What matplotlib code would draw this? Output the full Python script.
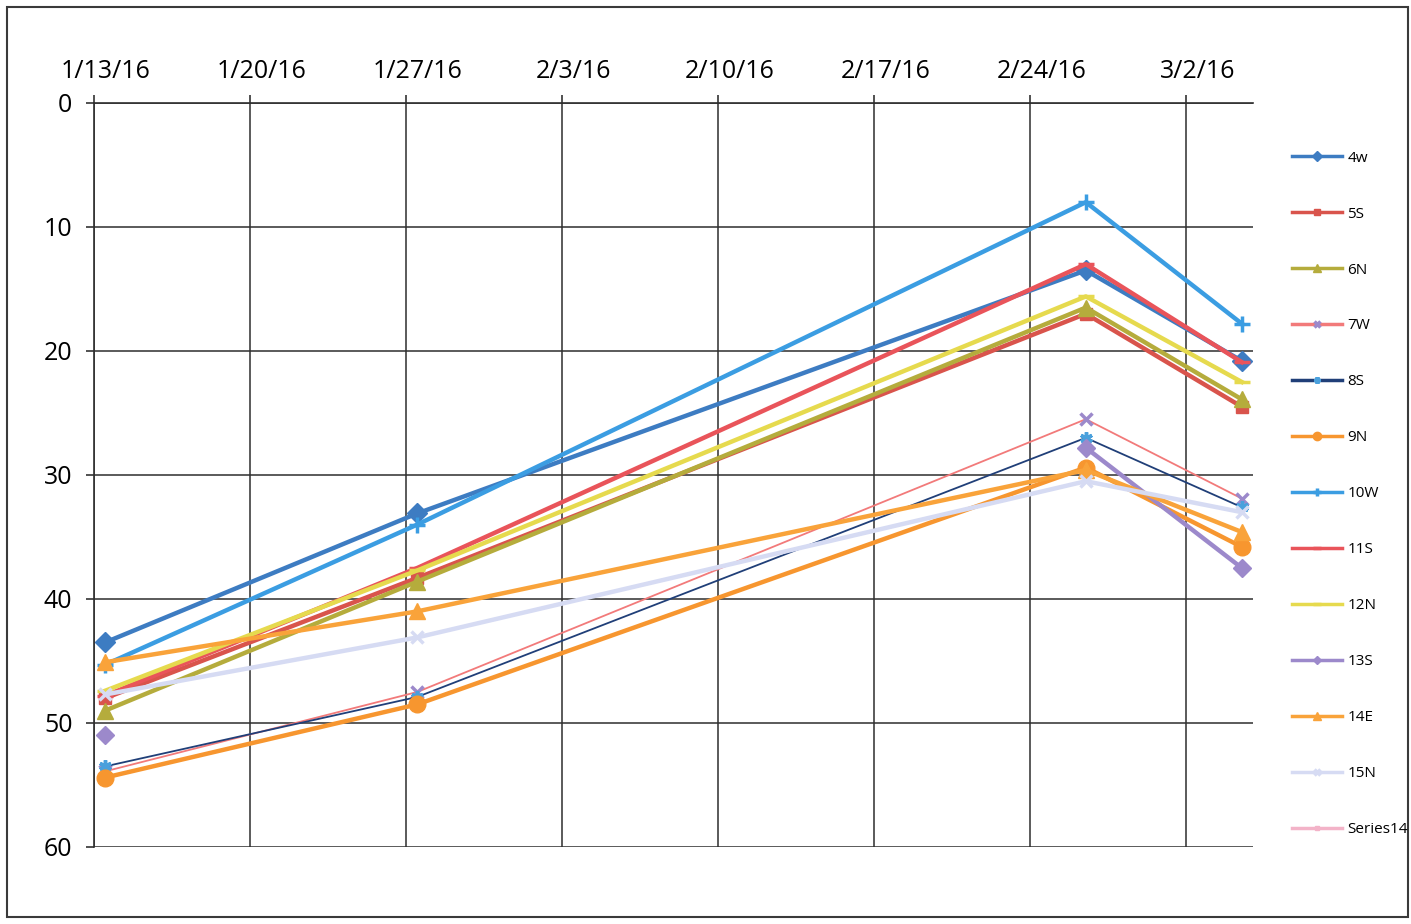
import numpy as np
import pandas as pd
import matplotlib
matplotlib.use("Agg")
import matplotlib.pyplot as plt
from matplotlib.patches import Rectangle

plt.rcParams['font.family'] = ['Open Sans', 'DejaVu Sans']

# Data
dates = pd.to_datetime(['2016-01-13', '2016-01-27', '2016-02-26', '2016-03-04'])
names = ['4w', '5S', '6N', '7W', '8S', '9N', '10W', '11S', '12N', '13S', '14E', '15N', 'Series14']
v_4w = [43.5, 33.1, 13.5, 20.8]
v_5s = [48.0, 38.3, 17.0, 24.5]
v_6n = [49.0, 38.6, 16.5, 23.9]
v_7w = [53.9, 47.5, 25.5, 31.9]
v_8s = [53.5, 47.9, 27.0, 32.6]
v_9n = [54.4, 48.5, 29.4, 35.8]
v_10w = [45.3, 34.0, 8.0, 17.8]
v_11s = [47.8, 37.5, 13.0, 20.9]
v_12n = [47.4, 37.7, 15.6, 22.5]
v_13s = [51.0, np.nan, 27.8, 37.5]
v_14e = [45.1, 41.0, 29.6, 34.6]
v_15n = [47.7, 43.1, 30.5, 33.0]
v_s14 = [np.nan, np.nan, np.nan, np.nan]
values = [v_4w, v_5s, v_6n, v_7w, v_8s, v_9n, v_10w, v_11s, v_12n, v_13s, v_14e, v_15n, v_s14]

colors = ['#3d7cc2', '#d9544c', '#b5ac3c', '#f27a7a', '#203f78', '#f7962f',
          '#3b9de2', '#e9545a', '#e6da4e', '#9c89cb', '#f9a33a', '#d6dbf3', '#f3b3c8']
markers = ['D', 's', '^', 'x', (6, 2, 0), 'o', '+', '_', '_', 'D', '^', 'x', 's']
widths = [3.2, 3.2, 3.2, 1.3, 1.3, 3.2, 3.2, 3.2, 3.2, 3.2, 3.2, 3.2, 3.2]
msizes = [10, 9, 11, 9, 9, 12, 12, 11, 11, 9, 11, 9, 7]
mcolors = ['#3d7cc2', '#d9544c', '#b5ac3c', '#9c89cb', '#4aa0dc', '#f7962f',
           '#3b9de2', '#e9545a', '#e6da4e', '#9c89cb', '#f9a33a', '#d6dbf3', '#f3b3c8']

# Excel date axis puts points (and labels) in the middle of each day
half_day = pd.Timedelta(hours=12)
x = dates + half_day

fig = plt.figure(figsize=(14.11, 9.24), dpi=100)
ax = fig.add_axes([94 / 1411, 1 - 847 / 924, (1253 - 94) / 1411, (847 - 103) / 924])

for name, vals, c, m, lw, ms, mc in zip(names, values, colors, markers, widths, msizes, mcolors):
    ax.plot(x, vals, color=c, lw=lw, marker=m, markersize=ms, markerfacecolor=mc,
            markeredgecolor=mc, markeredgewidth=2.5 if m in ('x', '+', '_', (6, 2, 0)) else 1,
            label=name, zorder=3)

ticks = pd.date_range('2016-01-13', '2016-03-02', freq='7D')
ax.set_xticks(ticks)
ax.set_xticklabels([])
ax.set_xticks(ticks + half_day, minor=True)
ax.set_xticklabels([f"{d.month}/{d.day}/{d:%y}" for d in ticks], minor=True, fontsize=18)
ax.set_xlim(pd.Timestamp('2016-01-13'), pd.Timestamp('2016-03-05'))
ax.xaxis.tick_top()
ax.tick_params(axis='x', which='major', length=6, width=1.2, color='#333333')
ax.tick_params(axis='x', which='minor', length=0, pad=14)

ax.set_ylim(60, 0)
ax.set_yticks(range(0, 61, 10))
ax.tick_params(axis='y', labelsize=18, length=6, width=1.2, color='#333333', pad=9.5)

ax.grid(True, which='major', color='#2e2e2e', lw=1.1, zorder=0)
ax.set_axisbelow(True)
for side in ['right', 'bottom']:
    ax.spines[side].set_visible(False)
for side in ['left', 'top']:
    ax.spines[side].set_color('#2e2e2e')
    ax.spines[side].set_linewidth(1.2)

leg = fig.legend(loc='upper left', bbox_to_anchor=(1284 / 1411, 1 - 143 / 924),
                 frameon=False, fontsize=11, labelspacing=2.68, handlelength=3.3,
                 handletextpad=0.35, borderpad=0, markerscale=0.5)
for line in leg.get_lines():
    line.set_linewidth(2.5)

# outer chart border
fig.patches.append(Rectangle((7 / 1411, 1 - 917 / 924), 1401 / 1411, 910 / 924,
                             transform=fig.transFigure, fill=False,
                             edgecolor='#3a3a3a', lw=1.5))

fig.savefig('out.png', dpi=100)
